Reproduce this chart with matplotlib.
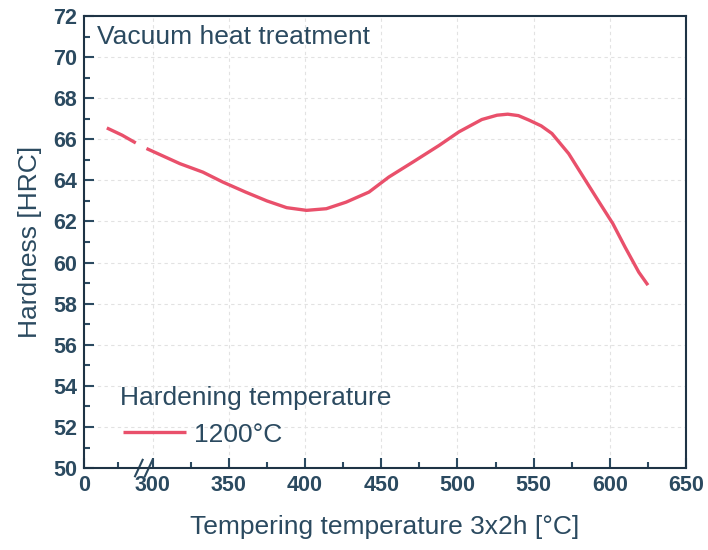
from matplotlib import pyplot as plt
from matplotlib.ticker import FixedLocator

plt.rcParams['font.family'] = ['Liberation Sans', 'DejaVu Sans']

# hardness curve (broken x axis, 0 sits at 255)
temp_a = [270, 280, 289]
hrc_a = [66.55, 66.2, 65.82]
temp_b = [296, 318, 333, 346, 361, 375, 388, 401, 414, 427, 442, 455, 471, 488,
          501, 516, 526, 533, 540, 547, 555, 562, 573, 584, 593, 602, 610, 619, 625]
hrc_b = [65.55, 64.81, 64.40, 63.92, 63.43, 63.0, 62.67, 62.54, 62.62, 62.94, 63.43, 64.16, 64.9, 65.7,
         66.36, 66.96, 67.17, 67.22, 67.15, 66.93, 66.65, 66.28, 65.3, 64.0, 62.94, 61.89, 60.75, 59.53, 58.9]

xtick_pos = [255, 300, 350, 400, 450, 500, 550, 600, 650]
xtick_labels = ["0", "300", "350", "400", "450", "500", "550", "600", "650"]
ytick_pos = list(range(50, 73, 2))

txt = "#2b4a60"
red = "#e9506b"

fig = plt.figure(figsize=(7.08, 5.5), dpi=100)
ax = fig.add_axes([0.1186, 0.149, 0.8504, 0.822])

ax.plot(temp_a, hrc_a, color=red, lw=2.4, solid_capstyle="butt", solid_joinstyle="round")
ax.plot(temp_b, hrc_b, color=red, lw=2.4, solid_capstyle="butt", solid_joinstyle="round",
        label="1200°C")

ax.set_xlim(255, 650)
ax.set_ylim(50, 72)
ax.set_xticks(xtick_pos)
ax.set_xticklabels(xtick_labels)
ax.set_yticks(ytick_pos)
ax.xaxis.set_minor_locator(FixedLocator([277.5, 325, 375, 425, 475, 525, 575, 625]))
ax.yaxis.set_minor_locator(FixedLocator(list(range(51, 72, 2))))
ax.tick_params(which="both", direction="in", colors=txt, width=1.5, labelsize=15.5, pad=5)
ax.tick_params(which="major", length=7)
ax.tick_params(which="minor", length=4)
for lab in ax.get_xticklabels() + ax.get_yticklabels():
    lab.set_fontweight("bold")
for sp in ax.spines.values():
    sp.set_color("#1e3345")
    sp.set_linewidth(1.5)

# faint dotted grid
for x in xtick_pos[1:-1]:
    ax.axvline(x, color="#e2e2e2", lw=0.8, ls=(0, (3, 3)), zorder=0)
for y in ytick_pos[1:-1]:
    ax.axhline(y, color="#e2e2e2", lw=0.8, ls=(0, (3, 3)), zorder=0)

# axis break marks
for x0 in [288.5, 295]:
    ax.plot([x0, x0 + 5], [49.6, 50.4], color=txt, lw=1.5, clip_on=False)

ax.text(0.022, 0.98, "Vacuum heat treatment", transform=ax.transAxes,
        fontsize=19, color=txt, va="top", ha="left")
ax.text(0.06, 0.155, "Hardening temperature", transform=ax.transAxes,
        fontsize=19, color=txt, va="center", ha="left")
leg = ax.legend(loc="lower left", bbox_to_anchor=(0.025, -0.005), frameon=False,
                fontsize=19, handlelength=2.4, handletextpad=0.3)
for t in leg.get_texts():
    t.set_color(txt)

ax.set_xlabel("Tempering temperature 3x2h [°C]", fontsize=19, color=txt, labelpad=14)
ax.set_ylabel("Hardness [HRC]", fontsize=19, color=txt, labelpad=8)

plt.savefig("out.png", dpi=100)
